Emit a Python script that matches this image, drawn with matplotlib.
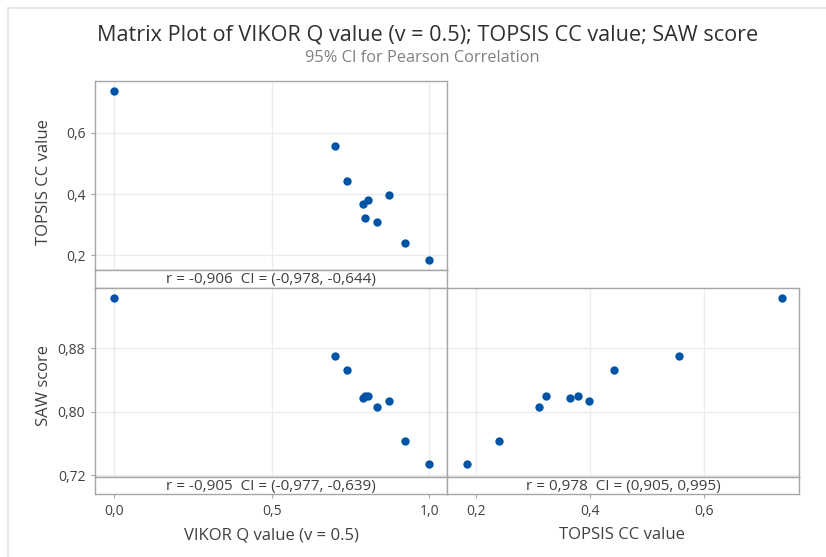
import matplotlib
matplotlib.use("Agg")
import matplotlib.pyplot as plt
from matplotlib.lines import Line2D

plt.rcParams['font.family'] = ['Open Sans', 'DejaVu Sans']

# ---- data ----
vikor = [0.0, 0.700, 0.740, 0.788, 0.797, 0.806, 0.833, 0.872, 0.924, 1.0]
topsis = [0.737, 0.556, 0.442, 0.366, 0.323, 0.380, 0.310, 0.398, 0.241, 0.185]
saw = [0.944, 0.870, 0.852, 0.817, 0.8195, 0.820, 0.806, 0.814, 0.763, 0.734]

vikor_ticks = [0.0, 0.5, 1.0]
vikor_ticklabels = ["0,0", "0,5", "1,0"]
topsis_ticks = [0.2, 0.4, 0.6]
topsis_ticklabels = ["0,2", "0,4", "0,6"]
saw_ticks = [0.72, 0.80, 0.88]
saw_ticklabels = ["0,72", "0,80", "0,88"]

corr_text = {
    ("vikor", "topsis"): "r = -0,906  CI = (-0,978, -0,644)",
    ("vikor", "saw"): "r = -0,905  CI = (-0,977, -0,639)",
    ("topsis", "saw"): "r = 0,978  CI = (0,905, 0,995)",
}

title = "Matrix Plot of VIKOR Q value (v = 0.5); TOPSIS CC value; SAW score"
subtitle = "95% CI for Pearson Correlation"

# ---- layout ----
W, H = 826, 557
fig = plt.figure(figsize=(W / 100, H / 100), dpi=100)
fig.patch.set_facecolor("white")

def fx(px):
    return px / W

def fy(py):
    return 1 - py / H

border = "#a6a6a6"
dot = "#0054a6"
txt = "#404040"

vx_lim = (-0.061, 1.056)
tx_lim = (0.149, 0.7675)
ty_lim = (0.152, 0.769)
sy_lim = (0.7175, 0.956)

# faint outer frame (left and top)
fig.add_artist(Line2D([fx(8), fx(8)], [fy(8), 0], color="#e4e4e4", lw=1.2))
fig.add_artist(Line2D([fx(8), 1], [fy(8), fy(8)], color="#e4e4e4", lw=1.2))

def panel(x0, x1, y0, y1, ys, xdata, ydata, xlim, ylim, label):
    ax = fig.add_axes([fx(x0), fy(y1), fx(x1 - x0), (y1 - y0) / H])
    ax.scatter(xdata, ydata, s=36, color=dot, zorder=3, linewidths=0)
    ax.set_xlim(*xlim)
    ax.set_ylim(*ylim)
    ax.grid(True, color="#ececec", linewidth=1.0, zorder=0)
    ax.tick_params(axis="y", length=3, color=border, labelsize=10, labelcolor=txt, pad=4)
    ax.tick_params(axis="x", length=0)
    ax.set_xticklabels([])
    for s in ax.spines.values():
        s.set_color(border)
        s.set_linewidth(1.0)
    sx = fig.add_axes([fx(x0), fy(ys), fx(x1 - x0), (ys - y1) / H])
    sx.set_xlim(*xlim)
    sx.set_yticks([])
    sx.tick_params(axis="x", length=3, color=border, labelsize=10, labelcolor=txt, pad=4)
    for s in sx.spines.values():
        s.set_color(border)
        s.set_linewidth(1.0)
    sx.text(0.5, 0.45, label, transform=sx.transAxes, ha="center", va="center",
            fontsize=11, color=txt)
    return ax, sx

# top-left: VIKOR vs TOPSIS
ax1, s1 = panel(95, 447, 81, 270, 288, vikor, topsis, vx_lim, ty_lim,
                corr_text[("vikor", "topsis")])
ax1.set_xticks(vikor_ticks)
ax1.set_yticks(topsis_ticks)
ax1.set_yticklabels(topsis_ticklabels)
s1.set_xticks([])

# bottom-left: VIKOR vs SAW
ax2, s2 = panel(95, 447, 288, 477, 494, vikor, saw, vx_lim, sy_lim,
                corr_text[("vikor", "saw")])
ax2.set_xticks(vikor_ticks)
ax2.set_yticks(saw_ticks)
ax2.set_yticklabels(saw_ticklabels)
s2.set_xticks(vikor_ticks)
s2.set_xticklabels(vikor_ticklabels)

# bottom-right: TOPSIS vs SAW
ax3, s3 = panel(447, 799, 288, 477, 494, topsis, saw, tx_lim, sy_lim,
                corr_text[("topsis", "saw")])
ax3.set_xticks(topsis_ticks)
ax3.set_yticks(saw_ticks)
ax3.set_yticklabels([])
ax3.tick_params(axis="y", length=0)
s3.set_xticks(topsis_ticks)
s3.set_xticklabels(topsis_ticklabels)

# axis labels
fig.text(fx(44), fy(182), "TOPSIS CC value", rotation=90, ha="center", va="center",
         fontsize=12, color=txt)
fig.text(fx(44), fy(385), "SAW score", rotation=90, ha="center", va="center",
         fontsize=12, color=txt)
fig.text(fx(271), fy(535), "VIKOR Q value (v = 0.5)", ha="center", va="center",
         fontsize=12, color=txt)
fig.text(fx(622), fy(535), "TOPSIS CC value", ha="center", va="center",
         fontsize=12, color=txt)

# titles
fig.text(fx(428), fy(35), title, ha="center", va="center", fontsize=15.6, color="#303030")
fig.text(fx(422), fy(58), subtitle, ha="center", va="center", fontsize=11.8, color="#808080")

fig.savefig("out.png", dpi=100, facecolor="white")
